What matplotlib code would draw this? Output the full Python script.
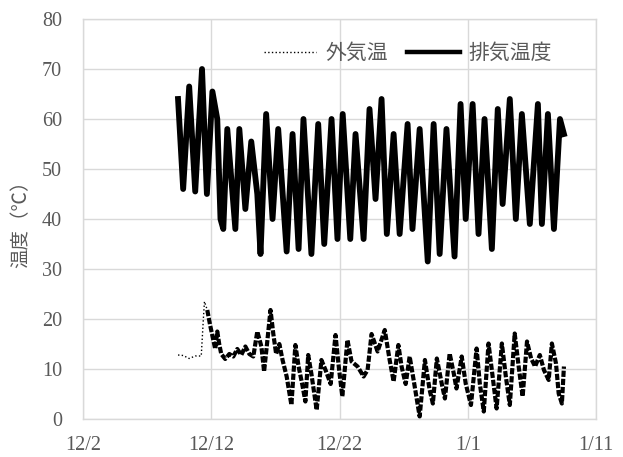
import matplotlib
matplotlib.use("Agg")
import matplotlib.pyplot as plt
import numpy as np

## Data (days after 12/2)
tick_days = [0, 10, 20, 30, 40]
tick_labels = ['12/2', '12/12', '12/22', '1/1', '1/11']

exhaust_day = [7.41, 7.81, 8.28, 8.75, 9.28, 9.66, 10.09, 10.47, 10.72, 10.94,
               11.25, 11.88, 12.19, 12.66, 13.12, 13.59, 13.84, 14.28, 14.78, 15.22,
               15.88, 16.34, 16.81, 17.19, 17.81, 18.34, 18.81, 19.38, 19.84, 20.25,
               20.84, 21.25, 21.88, 22.34, 22.81, 23.28, 23.69, 24.22, 24.69, 25.31,
               25.69, 26.25, 26.88, 27.34, 27.81, 28.34, 28.97, 29.44, 29.84, 30.38,
               30.84, 31.31, 31.88, 32.34, 32.72, 33.28, 33.75, 34.22, 34.84, 35.47,
               35.78, 36.25, 36.72, 37.19, 37.5]
exhaust_temp = [64, 46, 66.5, 45.5, 70, 45, 65.5, 60, 40, 38,
                58, 38, 58, 42, 55.5, 45, 33, 61, 40, 58,
                33.5, 57, 34, 60, 33, 59, 35, 60, 36, 61,
                36, 57, 36, 62, 44, 64, 37, 57, 37, 59,
                38, 58, 31.5, 59, 33, 58, 32.5, 63, 40, 63,
                37, 60, 34, 62, 43, 64, 40, 61, 39, 63,
                39, 61, 38, 60, 57]

outdoor_day = [7.41, 7.81, 8.28, 8.75, 9.22, 9.38, 9.47, 9.69, 9.91, 10.16,
               10.31, 10.47, 10.62, 10.78, 11.09, 11.41, 11.72, 12.03, 12.34, 12.66,
               12.97, 13.28, 13.59, 13.91, 14.12, 14.38, 14.62, 14.84, 15.06, 15.31,
               15.56, 15.88, 16.25, 16.56, 16.81, 17.09, 17.34, 17.56, 17.81, 18.22,
               18.59, 18.91, 19.31, 19.69, 19.94, 20.22, 20.62, 20.94, 21.41, 21.88,
               22.19, 22.5, 22.97, 23.53, 23.91, 24.22, 24.59, 24.84, 25.16, 25.47,
               25.78, 26.25, 26.66, 27.03, 27.28, 27.59, 27.97, 28.22, 28.59, 28.91,
               29.12, 29.53, 29.84, 30.25, 30.69, 30.94, 31.25, 31.62, 31.94, 32.25,
               32.66, 32.97, 33.28, 33.66, 33.97, 34.28, 34.62, 34.94, 35.25, 35.62,
               35.94, 36.31, 36.56, 36.88, 37.09, 37.34, 37.5]
outdoor_temp = [12.8, 12.7, 12.1, 12.6, 12.6, 19.8, 23.5, 21.8, 18.8, 15.8,
                14, 17.5, 15, 13, 12, 13, 12.5, 14, 12.8, 14.5,
                13, 12.5, 17.5, 14.5, 9.5, 15.8, 21.8, 17, 13, 15,
                11.8, 8.5, 2.8, 14.8, 10.5, 7, 3.5, 12.8, 9, 1.8,
                11.8, 9.8, 7, 16.8, 10.5, 4.5, 15.8, 11.5, 10.5, 8.5,
                9.8, 17, 13.5, 17.8, 11.8, 7.5, 14.8, 10.5, 7, 12.5,
                7.8, 0.5, 11.8, 5.8, 3.1, 12.1, 7.1, 4.1, 13.1, 9.1,
                6.1, 12.5, 7.1, 2.8, 14.1, 7.1, 1.5, 15.1, 8.5, 2.1,
                15.1, 8.5, 2.8, 17.1, 10.5, 4.5, 15.5, 12.1, 10.5, 12.8,
                9.8, 7.8, 15.1, 11.1, 5.1, 3.1, 10.5]

# the first few days are drawn thin, later dense data looks heavy
split = 7

plt.rcParams['font.family'] = ['Liberation Serif', 'Noto Sans CJK JP']
gray = '#595959'
grid_c = '#d9d9d9'

fig = plt.figure(figsize=(6.23, 4.57), dpi=100)
ax = fig.add_axes([83/623, 1-419/457, (596-83)/623, 400/457])

ax.plot(outdoor_day[:split + 1], outdoor_temp[:split + 1], color='black',
        linestyle=':', linewidth=1.0, label='外気温')
ax.plot(outdoor_day[split:], outdoor_temp[split:], color='black',
        linestyle=(0, (1.5, 0.45)), linewidth=3.0)
ax.plot(exhaust_day, exhaust_temp, color='black', linewidth=4.2,
        solid_joinstyle='round', label='排気温度')

ax.set_xlim(0, 40)
ax.set_ylim(0, 80)
ax.set_xticks(tick_days)
ax.set_xticklabels(tick_labels)
ax.set_yticks(np.arange(0, 81, 10))
ax.tick_params(length=0, labelsize=14.5, colors=gray)
ax.tick_params(axis='y', pad=15)
ax.tick_params(axis='x', pad=12)
ax.grid(True, color=grid_c, linewidth=1)
ax.set_axisbelow(True)
for s in ax.spines.values():
    s.set_color(grid_c)
    s.set_linewidth(1)

ax.set_ylabel('温度（℃）', fontsize=14, color=gray,
              family=['Noto Sans CJK JP', 'DejaVu Sans'], labelpad=8)

leg = fig.legend(loc='center', bbox_to_anchor=(408/623, 1-53/457), ncol=2,
                 frameon=False, handlelength=2.5, handletextpad=0.45,
                 columnspacing=0.95,
                 prop={'family': ['Noto Sans CJK JP'], 'size': 15})
leg.get_lines()[1].set_linewidth(3.2)
for t in leg.get_texts():
    t.set_color(gray)

plt.savefig('out.png', dpi=100)
